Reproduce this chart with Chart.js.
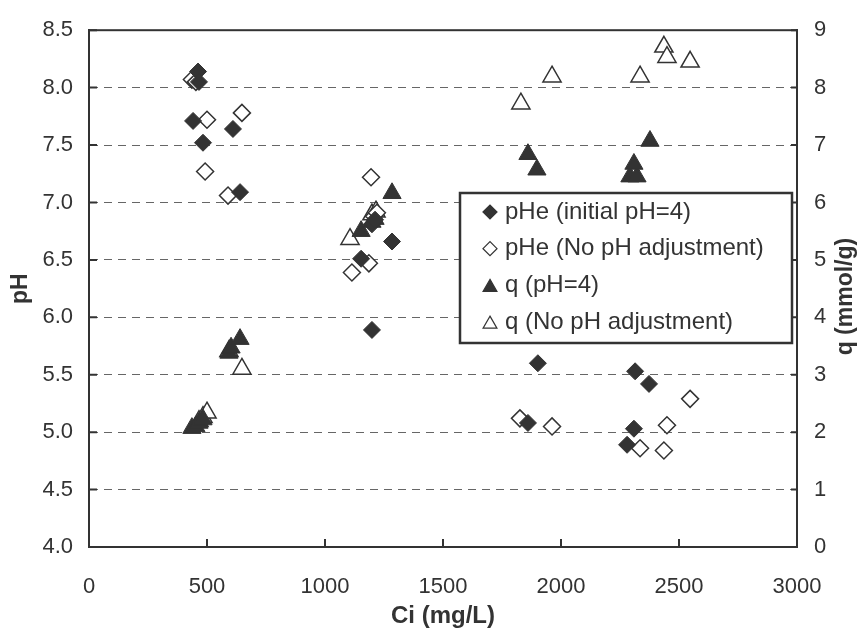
<!DOCTYPE html>
<html>
<head>
<meta charset="utf-8">
<script src="https://cdn.jsdelivr.net/npm/chart.js@4/dist/chart.umd.min.js"></script>
<style>
html, body { margin: 0; padding: 0; background: #fff; }
#wrap { width: 861px; height: 631px; }
</style>
</head>
<body>
<div id="wrap"><canvas id="chart" width="861" height="631"></canvas></div>
<script>
// Ci (mg/L) and pHe / q
const ciPheInitial = [462, 466, 441, 483, 610, 640, 1153, 1199, 1199, 1212, 1284, 1902, 1860, 2280, 2309, 2314, 2373];
const pheInitial   = [8.14, 8.05, 7.71, 7.52, 7.64, 7.09, 6.51, 5.89, 6.81, 6.85, 6.66, 5.60, 5.08, 4.89, 5.03, 5.53, 5.42];

const ciPheNoAdj = [436, 453, 500, 492, 648, 589, 1195, 1114, 1186, 1208, 1220, 1826, 1962, 2335, 2449, 2436, 2547];
const pheNoAdj   = [8.07, 8.05, 7.72, 7.27, 7.78, 7.06, 7.22, 6.39, 6.47, 6.88, 6.91, 5.12, 5.05, 4.86, 5.06, 4.84, 5.29];

const ciQInitial = [436, 453, 466, 483, 593, 602, 640, 1153, 1199, 1212, 1284, 1860, 1898, 2292, 2322, 2309, 2377];
const qInitial   = [2.07, 2.10, 2.16, 2.22, 3.38, 3.47, 3.62, 5.50, 5.66, 5.71, 6.16, 6.84, 6.57, 6.45, 6.45, 6.67, 7.07];

const ciQNoAdj = [466, 483, 500, 648, 593, 1106, 1199, 1216, 1830, 1962, 2335, 2436, 2449, 2547];
const qNoAdj   = [2.19, 2.26, 2.34, 3.10, 3.41, 5.36, 5.79, 5.84, 7.72, 8.19, 8.19, 8.71, 8.53, 8.45];

const seriesLabels = ['pHe (initial pH=4)', 'pHe (No pH adjustment)', 'q (pH=4)', 'q (No pH adjustment)'];

const ciTicks = [0, 500, 1000, 1500, 2000, 2500, 3000];
const phTicks = [4.0, 4.5, 5.0, 5.5, 6.0, 6.5, 7.0, 7.5, 8.0, 8.5];
const qTicks  = [0, 1, 2, 3, 4, 5, 6, 7, 8, 9];

const ink = '#333333';
const family = "'Liberation Sans', Arial, sans-serif";

const toPoints = (xs, ys) => xs.map((x, i) => ({ x: x, y: ys[i] }));
const fixTicks = list => scale => { scale.ticks = list.map(v => ({ value: v })); };

// legend box drawn inside the plot, like the original
const innerLegend = {
    id: 'innerLegend',
    afterDraw(chart) {
        const ctx = chart.ctx;
        const box = { x: 460, y: 193, w: 332, h: 150 };
        ctx.save();
        ctx.fillStyle = '#fff';
        ctx.fillRect(box.x, box.y, box.w, box.h);
        ctx.strokeStyle = ink;
        ctx.lineWidth = 2.5;
        ctx.strokeRect(box.x, box.y, box.w, box.h);
        ctx.font = '24px ' + family;
        ctx.textBaseline = 'middle';
        chart.data.datasets.forEach((ds, i) => {
            const cy = box.y + 19 + i * 36.7;
            const tri = ds.pointStyle === 'triangle';
            ctx.fillStyle = ds.backgroundColor;
            ctx.strokeStyle = ds.borderColor;
            ctx.lineWidth = 1.2;
            Chart.helpers.drawPoint(ctx, {
                pointStyle: ds.pointStyle,
                radius: tri ? 8 : 7,
                borderWidth: 1.2
            }, 490, cy + (tri ? 2 : 0));
            ctx.fillStyle = ink;
            ctx.fillText(ds.label, 505, cy);
        });
        ctx.restore();
    }
};

// inward tick marks, full frame and the right-hand title
const frame = {
    id: 'frame',
    afterDraw(chart) {
        const { ctx, chartArea: a, scales } = chart;
        ctx.save();
        ctx.strokeStyle = ink;
        ctx.lineWidth = 2;
        ctx.beginPath();
        scales.x.ticks.forEach(t => {
            const px = scales.x.getPixelForValue(t.value);
            ctx.moveTo(px, a.bottom); ctx.lineTo(px, a.bottom - 8);
        });
        scales.y.ticks.forEach(t => {
            const py = scales.y.getPixelForValue(t.value);
            ctx.moveTo(a.left, py); ctx.lineTo(a.left + 8, py);
        });
        scales.y1.ticks.forEach(t => {
            const py = scales.y1.getPixelForValue(t.value);
            ctx.moveTo(a.right, py); ctx.lineTo(a.right - 6, py);
        });
        ctx.stroke();
        ctx.strokeRect(a.left, a.top, a.right - a.left, a.bottom - a.top);

        ctx.translate(846, (a.top + a.bottom) / 2 + 8);
        ctx.rotate(-Math.PI / 2);
        ctx.fillStyle = ink;
        ctx.font = 'bold 23px ' + family;
        ctx.textAlign = 'center';
        ctx.textBaseline = 'middle';
        ctx.fillText('q (mmol/g)', 0, 0);
        ctx.restore();
    }
};

const filled = { backgroundColor: ink, borderColor: ink, borderWidth: 1 };
const hollow = { backgroundColor: '#ffffff', borderColor: ink, borderWidth: 1.5 };

new Chart(document.getElementById('chart'), {
    type: 'scatter',
    data: {
        datasets: [
            Object.assign({ label: seriesLabels[0], data: toPoints(ciPheInitial, pheInitial), yAxisID: 'y', pointStyle: 'rectRot', pointRadius: 8.5 }, filled),
            Object.assign({ label: seriesLabels[1], data: toPoints(ciPheNoAdj, pheNoAdj), yAxisID: 'y', pointStyle: 'rectRot', pointRadius: 8.5 }, hollow),
            Object.assign({ label: seriesLabels[2], data: toPoints(ciQInitial, qInitial), yAxisID: 'y1', pointStyle: 'triangle', pointRadius: 10.5 }, filled),
            Object.assign({ label: seriesLabels[3], data: toPoints(ciQNoAdj, qNoAdj), yAxisID: 'y1', pointStyle: 'triangle', pointRadius: 10.5 }, hollow)
        ]
    },
    options: {
        responsive: false,
        animation: false,
        layout: { padding: { top: 25, left: 0, right: 0, bottom: 0 } },
        plugins: { legend: { display: false }, tooltip: { enabled: false } },
        scales: {
            x: {
                type: 'linear', min: 0, max: 3000,
                afterBuildTicks: fixTicks(ciTicks),
                afterFit: s => { s.height = 84; },
                grid: { display: false, drawTicks: false },
                border: { display: true, color: ink, width: 2 },
                ticks: { color: ink, font: { size: 22, family: family }, padding: 27, maxRotation: 0, callback: v => String(v) },
                title: { display: true, text: 'Ci (mg/L)', color: ink, font: { size: 24, weight: 'bold', family: family }, padding: { top: 0, bottom: 0 } }
            },
            y: {
                position: 'left', min: 4, max: 8.5,
                afterBuildTicks: fixTicks(phTicks),
                afterFit: s => { s.width = 89; },
                grid: {
                    drawTicks: false, lineWidth: 1,
                    color: c => (c.tick && (c.tick.value === 4 || c.tick.value === 8.5)) ? 'rgba(0,0,0,0)' : '#666666'
                },
                border: { display: true, color: ink, width: 2, dash: [8, 6] },
                ticks: { color: ink, font: { size: 22, family: family }, padding: 16, callback: v => v.toFixed(1) },
                title: { display: true, text: 'pH', color: ink, font: { size: 23, weight: 'bold', family: family }, padding: { top: 7, bottom: 0 } }
            },
            y1: {
                position: 'right', min: 0, max: 9,
                afterBuildTicks: fixTicks(qTicks),
                afterFit: s => { s.width = 64; },
                grid: { display: false, drawTicks: false },
                border: { display: true, color: ink, width: 2 },
                ticks: { color: ink, font: { size: 22, family: family }, padding: 17 }
            }
        }
    },
    plugins: [innerLegend, frame]
});
</script>
</body>
</html>
